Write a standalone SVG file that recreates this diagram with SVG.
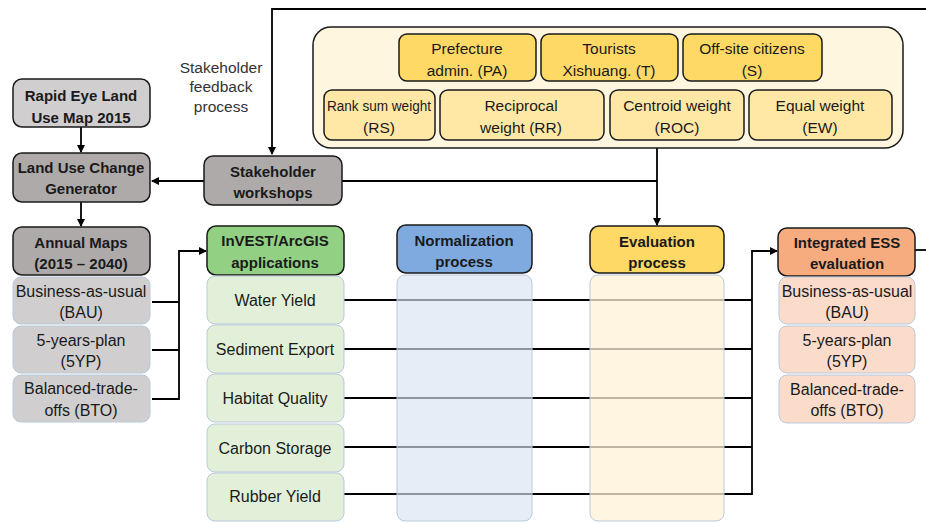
<svg xmlns="http://www.w3.org/2000/svg" width="926" height="523" viewBox="0 0 926 523">
<defs>
<marker id="ah" markerWidth="8" markerHeight="8" refX="7" refY="4" orient="auto" markerUnits="userSpaceOnUse">
<path d="M0,0 L8,4 L0,8 Z" fill="#000"/>
</marker>
<style>
text{font-family:"Liberation Sans",Arial,sans-serif;font-size:16px;fill:#1a1a1a;text-anchor:middle;dominant-baseline:central}
.b{font-weight:bold;font-size:15px}
.w{font-size:15.5px}
.hd{stroke:#1a1a1a;stroke-width:1.5}
.sub{stroke:#b9c9dc;stroke-width:1}
.ln{fill:none;stroke:#000;stroke-width:1.8}
.lbl{fill:#333;font-size:15.5px}
</style>
</defs>
<rect width="926" height="523" fill="#fff"/>

<g id="connectors">
<path class="ln" d="M926,9 H272 V154" marker-end="url(#ah)"/>
<path class="ln" d="M204,181 H152" marker-end="url(#ah)"/>
<path class="ln" d="M342,181 H657"/>
<path class="ln" d="M657,148 V225" marker-end="url(#ah)"/>
<path class="ln" d="M81,127 V152" marker-end="url(#ah)"/>
<path class="ln" d="M81,202 V226" marker-end="url(#ah)"/>
<path class="ln" d="M152,302 H179 M152,350 H179 M152,399 H179 V251 H206" marker-end="url(#ah)"/>
<path class="ln" d="M344,300 H752 M344,349 H752 M344,398 H752 M344,447 H752 M344,494 H752 V251 H777" marker-end="url(#ah)"/>
<path class="ln" d="M915,250 H926"/>
</g>

<text class="lbl" x="221" y="67">Stakeholder</text>
<text class="lbl" x="221" y="86">feedback</text>
<text class="lbl" x="221" y="106">process</text>

<g id="weights">
<rect x="313" y="27" width="590" height="121" rx="18" fill="#fff6df" class="hd"/>
<g id="pa"><rect x="399" y="34" width="137" height="47" rx="8" fill="#ffd966" class="hd"/><text class="w" x="467" y="48">Prefecture</text><text class="w" x="467" y="70">admin. (PA)</text></g>
<g id="t"><rect x="541" y="34" width="137" height="47" rx="8" fill="#ffd966" class="hd"/><text class="w" x="609" y="48">Tourists</text><text class="w" x="609" y="70">Xishuang. (T)</text></g>
<g id="s"><rect x="683" y="34" width="139" height="47" rx="8" fill="#ffd966" class="hd"/><text class="w" x="752" y="48">Off-site citizens</text><text class="w" x="752" y="70">(S)</text></g>
<g id="rs"><rect x="324" y="90" width="111" height="50" rx="8" fill="#ffe7a6" class="hd"/><text class="w" x="379" y="105" textLength="104" lengthAdjust="spacingAndGlyphs">Rank sum weight</text><text class="w" x="379" y="127">(RS)</text></g>
<g id="rr"><rect x="440" y="90" width="164" height="50" rx="8" fill="#ffe7a6" class="hd"/><text class="w" x="521" y="105">Reciprocal</text><text class="w" x="521" y="127">weight (RR)</text></g>
<g id="roc"><rect x="610" y="90" width="134" height="50" rx="8" fill="#ffe7a6" class="hd"/><text class="w" x="677" y="105">Centroid weight</text><text class="w" x="677" y="127">(ROC)</text></g>
<g id="ew"><rect x="749" y="90" width="143" height="50" rx="8" fill="#ffe7a6" class="hd"/><text class="w" x="820" y="105">Equal weight</text><text class="w" x="820" y="127">(EW)</text></g>
</g>

<g id="rapideye"><rect x="13" y="79" width="137" height="48" rx="9" fill="#d0cece" class="hd"/><text class="b" x="81" y="95">Rapid Eye Land</text><text class="b" x="81" y="117">Use Map 2015</text></g>
<g id="luc"><rect x="13" y="153" width="137" height="49" rx="9" fill="#aeaaaa" class="hd"/><text class="b" x="81" y="167">Land Use Change</text><text class="b" x="81" y="188">Generator</text></g>
<g id="workshops"><rect x="204" y="156" width="138" height="49" rx="9" fill="#aeaaaa" class="hd"/><text class="b" x="273" y="171">Stakeholder</text><text class="b" x="273" y="192">workshops</text></g>

<g id="annual">
<rect x="13" y="227" width="137" height="48" rx="9" fill="#aeaaaa" class="hd"/><text class="b" x="81" y="242">Annual Maps</text><text class="b" x="81" y="263">(2015 – 2040)</text>
<rect x="13" y="277" width="137" height="47" rx="8" fill="#d0cece" class="sub"/><text x="81" y="291">Business-as-usual</text><text x="81" y="312">(BAU)</text>
<rect x="13" y="326" width="137" height="47" rx="8" fill="#d0cece" class="sub"/><text x="81" y="340">5-years-plan</text><text x="81" y="361">(5YP)</text>
<rect x="13" y="375" width="137" height="47" rx="8" fill="#d0cece" class="sub"/><text x="81" y="388">Balanced-trade-</text><text x="81" y="410">offs (BTO)</text>
</g>

<g id="invest">
<rect x="207" y="226" width="137" height="49" rx="9" fill="#92d083" class="hd"/><text class="b" x="275" y="240">InVEST/ArcGIS</text><text class="b" x="275" y="262">applications</text>
<rect x="207" y="276" width="137" height="48" rx="8" fill="#e2f0d9" class="sub"/><text x="275" y="300">Water Yield</text>
<rect x="207" y="325" width="137" height="48" rx="8" fill="#e2f0d9" class="sub"/><text x="275" y="349">Sediment Export</text>
<rect x="207" y="374" width="137" height="48" rx="8" fill="#e2f0d9" class="sub"/><text x="275" y="398">Habitat Quality</text>
<rect x="207" y="424" width="137" height="48" rx="8" fill="#e2f0d9" class="sub"/><text x="275" y="448">Carbon Storage</text>
<rect x="207" y="473" width="137" height="48" rx="8" fill="#e2f0d9" class="sub"/><text x="275" y="496">Rubber Yield</text>
</g>

<g id="normalization">
<rect x="397" y="275" width="135" height="246" rx="8" fill="#dae3f3" fill-opacity="0.65" class="sub"/>
<rect x="397" y="225" width="135" height="48" rx="9" fill="#7eaadf" class="hd"/><text class="b" x="464" y="240">Normalization</text><text class="b" x="464" y="261">process</text>
</g>

<g id="evaluation">
<rect x="590" y="275" width="134" height="246" rx="8" fill="#fff2d6" fill-opacity="0.75" class="sub"/>
<rect x="590" y="226" width="134" height="47" rx="9" fill="#ffd966" class="hd"/><text class="b" x="657" y="241">Evaluation</text><text class="b" x="657" y="262">process</text>
</g>

<g id="integrated">
<rect x="778" y="228" width="137" height="48" rx="9" fill="#f7ac7f" class="hd"/><text class="b" x="847" y="242">Integrated ESS</text><text class="b" x="847" y="263">evaluation</text>
<rect x="779" y="277" width="136" height="47" rx="8" fill="#fbdccb" class="sub"/><text x="847" y="291">Business-as-usual</text><text x="847" y="312">(BAU)</text>
<rect x="779" y="326" width="136" height="47" rx="8" fill="#fbdccb" class="sub"/><text x="847" y="340">5-years-plan</text><text x="847" y="361">(5YP)</text>
<rect x="779" y="375" width="136" height="48" rx="8" fill="#fbdccb" class="sub"/><text x="847" y="389">Balanced-trade-</text><text x="847" y="410">offs (BTO)</text>
</g>
</svg>
